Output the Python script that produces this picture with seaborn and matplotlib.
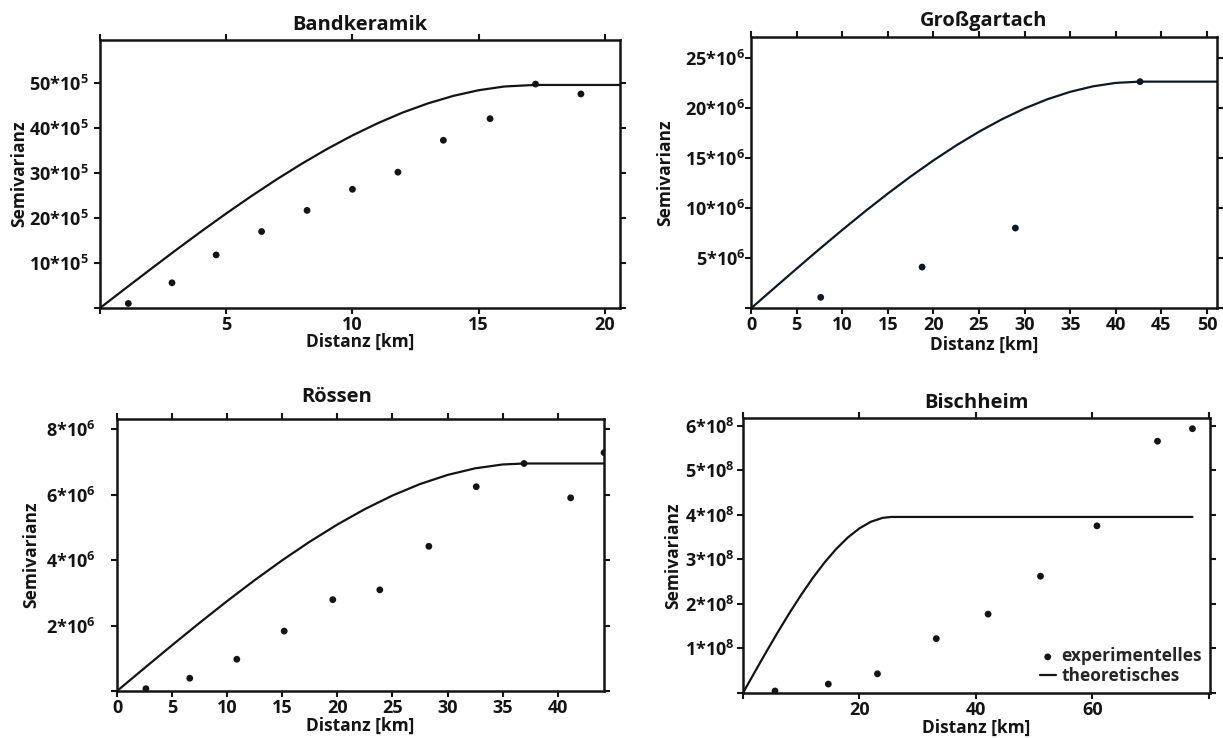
import matplotlib
matplotlib.use("Agg")
import matplotlib.pyplot as plt
import seaborn as sns
import pandas as pd

# ---------------- data ----------------
# Bandkeramik (semivariance in units of 10^5)
bk_lag = [1.12, 2.85, 4.6, 6.4, 8.2, 10.0, 11.8, 13.6, 15.45, 17.25, 19.05]
bk_gamma = [1.0, 5.6, 11.8, 17.0, 21.7, 26.4, 30.2, 37.3, 42.1, 49.8, 47.6]
bk_model_h = [0, 1, 2, 3, 4, 5, 6, 7, 8, 9, 10, 11, 12, 13, 14, 15, 16, 17.2, 20.6]
bk_model_g = [0, 4.32, 8.61, 12.85, 16.99, 21.02, 24.90, 28.61, 32.11, 35.38, 38.38,
              41.09, 43.49, 45.52, 47.18, 48.43, 49.25, 49.6, 49.6]

# Großgartach (units of 10^6)
gg_lag = [7.64, 18.76, 28.99, 42.66]
gg_gamma = [1.1, 4.13, 8.03, 22.67]
gg_model_h = [0, 2.5, 5, 7.5, 10, 12.5, 15, 17.5, 20, 22.5, 25, 27.5, 30, 32.5, 35,
              37.5, 40, 42.6, 51.1]
gg_model_g = [0, 1.993, 3.973, 5.925, 7.836, 9.692, 11.479, 13.184, 14.792, 16.290,
              17.665, 18.902, 19.988, 20.910, 21.652, 22.202, 22.546, 22.67, 22.67]

# Rössen (units of 10^6)
rs_lag = [2.62, 6.6, 10.87, 15.17, 19.58, 23.85, 28.3, 32.6, 36.94, 41.17, 44.2]
rs_gamma = [0.07, 0.39, 0.97, 1.83, 2.79, 3.09, 4.42, 6.24, 6.95, 5.90, 7.28]
rs_model_h = [0, 2.5, 5, 7.5, 10, 12.5, 15, 17.5, 20, 22.5, 25, 27.5, 30, 32.5, 35,
              37, 44.2]
rs_model_g = [0, 0.703, 1.400, 2.084, 2.749, 3.388, 3.995, 4.563, 5.086, 5.558,
              5.972, 6.322, 6.600, 6.802, 6.920, 6.95, 6.95]

# Bischheim (units of 10^8)
bh_lag = [5.5, 14.66, 23.1, 33.2, 42.1, 51.1, 60.8, 71.2, 77.2]
bh_gamma = [0.045, 0.20, 0.43, 1.22, 1.77, 2.62, 3.75, 5.65, 5.93]
bh_model_h = [0, 2, 4, 6, 8, 10, 12, 14, 16, 18, 20, 22, 24, 25.5, 77.2]
bh_model_g = [0, 0.464, 0.922, 1.368, 1.798, 2.204, 2.582, 2.926, 3.230, 3.488,
              3.694, 3.844, 3.930, 3.95, 3.95]

titles = ["Bandkeramik", "Großgartach", "Rössen", "Bischheim"]
legend_labels = ["experimentelles", "theoretisches"]
x_label = "Distanz [km]"
y_label = "Semivarianz"

# ---------------- style ----------------
sns.set_theme(style="ticks")
FONT = "Open Sans"
plt.rcParams["font.family"] = [FONT, "DejaVu Sans"]
plt.rcParams["font.weight"] = "bold"
plt.rcParams["mathtext.fontset"] = "custom"
plt.rcParams["mathtext.rm"] = f"{FONT}:bold"
plt.rcParams["mathtext.it"] = f"{FONT}:bold"
plt.rcParams["mathtext.bf"] = f"{FONT}:bold"
plt.rcParams["mathtext.default"] = "rm"

INK = "#141414"
TICK_FS = 13
LABEL_FS = 12.5
TITLE_FS = 14.5
LEGEND_FS = 12.5

fig = plt.figure(figsize=(12.23, 7.38), dpi=100)

panels = [
    dict(rect=[0.0818, 0.5827, 0.4252, 0.3631], lag=bk_lag, gamma=bk_gamma,
         mh=bk_model_h, mg=bk_model_g, xlim=(0, 20.6), ylim=(0, 59.6),
         xticks=[0, 5, 10, 15, 20], xshow=[5, 10, 15, 20],
         yticks=[0, 10, 20, 30, 40, 50], yshow=[10, 20, 30, 40, 50], exp=5,
         title_x=0.5, title_pad=7.5, ypad=4.3,
         ylab_x=-0.138, xlab_y=-0.093, color=INK),
    dict(rect=[0.6141, 0.5822, 0.3810, 0.3680], lag=gg_lag, gamma=gg_gamma,
         mh=gg_model_h, mg=gg_model_g, xlim=(0, 51.1), ylim=(0, 27.16),
         xticks=list(range(0, 51, 5)), xshow=list(range(0, 51, 5)),
         yticks=[0, 5, 10, 15, 20, 25], yshow=[5, 10, 15, 20, 25], exp=6,
         title_x=0.5, title_pad=7.5, ypad=0.0,
         ylab_x=-0.165, xlab_y=-0.103, color="#0f1826"),
    dict(rect=[0.0957, 0.0637, 0.3982, 0.3686], lag=rs_lag, gamma=rs_gamma,
         mh=rs_model_h, mg=rs_model_g, xlim=(0, 44.2), ylim=(0, 8.31),
         xticks=list(range(0, 41, 5)), xshow=list(range(0, 41, 5)),
         yticks=[0, 2, 4, 6, 8], yshow=[2, 4, 6, 8], exp=6,
         title_x=0.45, title_pad=12, ypad=11.5,
         ylab_x=-0.158, xlab_y=-0.094, color=INK),
    dict(rect=[0.6075, 0.0610, 0.3818, 0.3726], lag=bh_lag, gamma=bh_gamma,
         mh=bh_model_h, mg=bh_model_g, xlim=(0, 80.2), ylim=(0, 6.17),
         xticks=[0, 20, 40, 60, 80], xshow=[20, 40, 60],
         yticks=[0, 1, 2, 3, 4, 5, 6], yshow=[1, 2, 3, 4, 5, 6], exp=8,
         title_x=0.5, title_pad=7.5, ypad=2.0,
         ylab_x=-0.131, xlab_y=-0.093, color=INK),
]

for i, p in enumerate(panels):
    ax = fig.add_axes(p["rect"])
    pts = pd.DataFrame({"h": p["lag"], "g": p["gamma"]})
    model = pd.DataFrame({"h": p["mh"], "g": p["mg"]})
    sns.lineplot(data=model, x="h", y="g", ax=ax, color=p["color"], lw=1.6,
                 sort=False, estimator=None, label=legend_labels[1], legend=False)
    sns.scatterplot(data=pts, x="h", y="g", ax=ax, color=p["color"], s=24,
                    edgecolor="none", label=legend_labels[0], legend=False, zorder=3)
    ax.set_xlim(*p["xlim"])
    ax.set_ylim(*p["ylim"])

    ax.set_xticks(p["xticks"],
                  [str(t) if t in p["xshow"] else "" for t in p["xticks"]])
    ax.set_yticks(p["yticks"],
                  [f"{t}*10$^{{{p['exp']}}}$" if t in p["yshow"] else ""
                   for t in p["yticks"]])
    ax.tick_params(axis="both", which="major", direction="out", length=4, width=1.5,
                   color=INK, top=True, right=True, labeltop=False, labelright=False,
                   labelsize=TICK_FS, labelcolor=INK)
    ax.tick_params(axis="x", pad=1.8)
    ax.tick_params(axis="y", pad=p["ypad"])
    for lab in ax.get_xticklabels() + ax.get_yticklabels():
        lab.set_fontweight("bold")
    for sp in ax.spines.values():
        sp.set_visible(True)
        sp.set_linewidth(1.8)
        sp.set_color(INK)

    ax.set_title(titles[i], fontsize=TITLE_FS, fontweight="bold", color=INK,
                 x=p["title_x"], pad=p["title_pad"])
    ax.set_xlabel(x_label, fontsize=LABEL_FS, fontweight="bold", color=INK)
    ax.set_ylabel(y_label, fontsize=LABEL_FS, fontweight="bold", color=INK)
    ax.xaxis.set_label_coords(0.5, p["xlab_y"])
    ax.yaxis.set_label_coords(p["ylab_x"], 0.5)
    ax.set_facecolor("white")

    if i == 3:
        handles, labels = ax.get_legend_handles_labels()
        order = [labels.index(legend_labels[0]), labels.index(legend_labels[1])]
        ax.legend([handles[k] for k in order], [labels[k] for k in order],
                  loc="lower right", bbox_to_anchor=(1.0, 0.0), frameon=False,
                  handlelength=0.9, handletextpad=0.35,
                  labelspacing=0.1, borderaxespad=0.25, borderpad=0.2,
                  prop={"weight": "bold", "size": LEGEND_FS})

fig.savefig("out.png", dpi=100, facecolor="white")
